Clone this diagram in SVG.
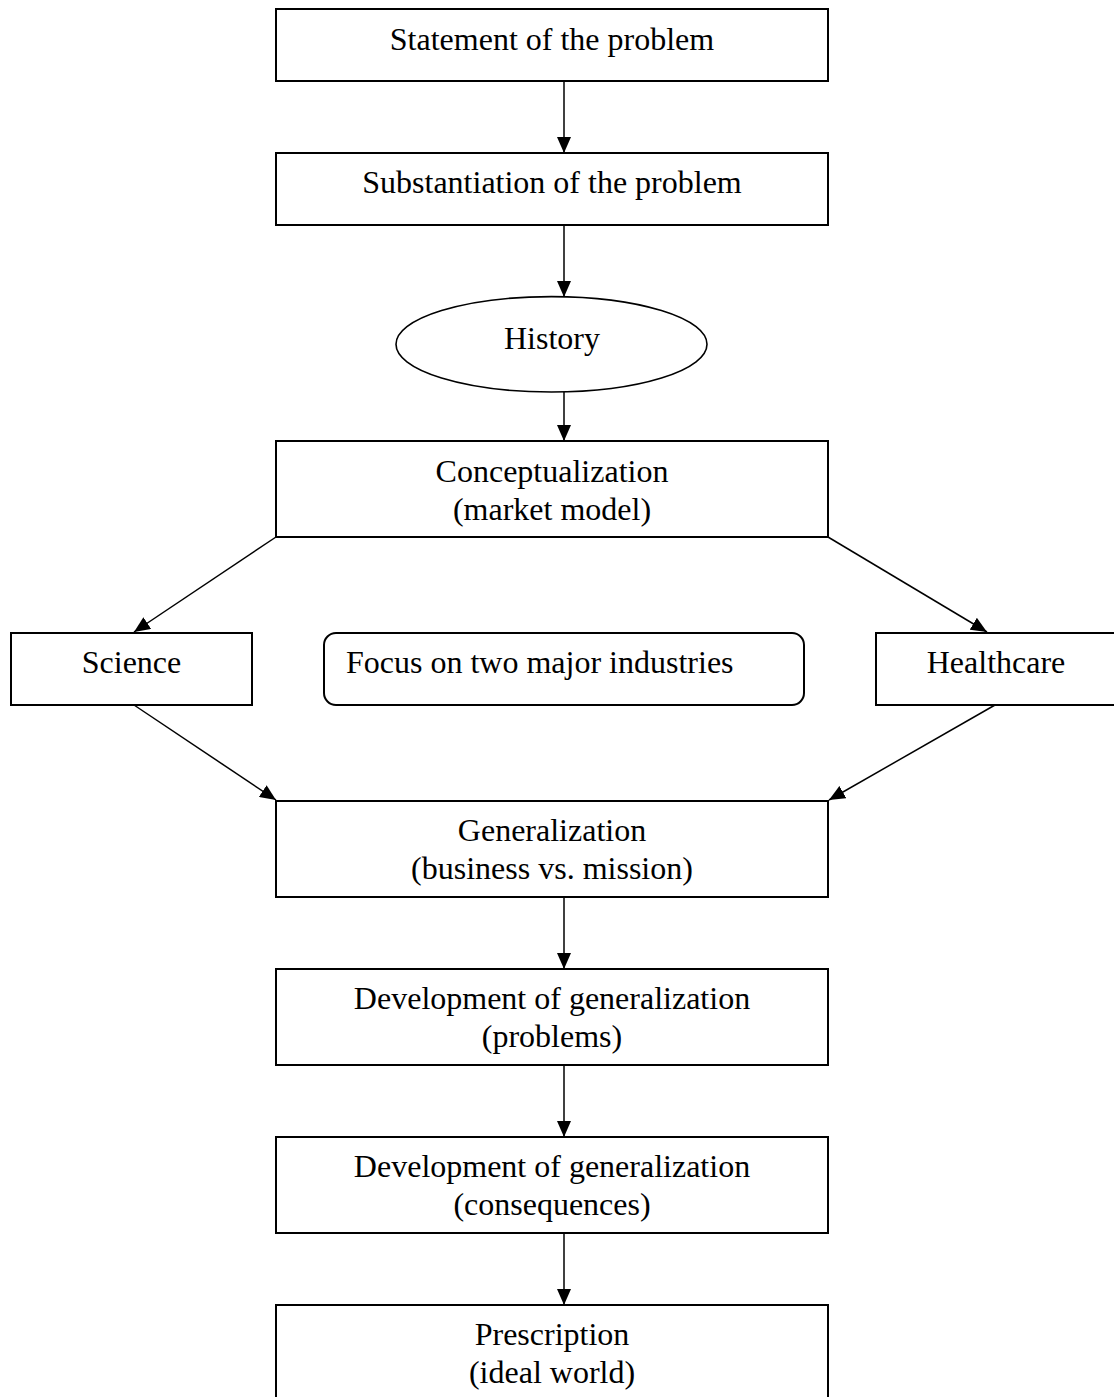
<svg xmlns="http://www.w3.org/2000/svg" width="1114" height="1397" viewBox="0 0 1114 1397">
<style>
.box{fill:#fff;stroke:#000;stroke-width:2}
.ell{fill:#fff;stroke:#000;stroke-width:1.6}
.t{font-family:"Liberation Serif","Times New Roman",serif;font-size:32px;fill:#000;text-anchor:middle}
.ts{font-family:"Liberation Serif","Times New Roman",serif;font-size:32px;fill:#000;text-anchor:start}
.c{fill:none;stroke:#000;stroke-width:1.5;marker-end:url(#ah)}
</style>
<defs>
<marker id="ah" markerUnits="userSpaceOnUse" markerWidth="16" markerHeight="14" refX="16" refY="7" orient="auto">
<path d="M0,0 L16,7 L0,14 z" fill="#000"/>
</marker>
</defs>
<rect width="1114" height="1397" fill="#fff"/>
<g id="connectors">
<line class="c" x1="564" y1="81" x2="564" y2="153"/>
<line class="c" x1="564" y1="225" x2="564" y2="297"/>
<line class="c" x1="564" y1="392" x2="564" y2="441"/>
<line class="c" x1="276" y1="537" x2="134" y2="632"/>
<line class="c" x1="828" y1="537" x2="987" y2="632"/>
<line class="c" x1="134" y1="705" x2="276" y2="800"/>
<line class="c" x1="995" y1="705" x2="829" y2="800"/>
<line class="c" x1="564" y1="897" x2="564" y2="969"/>
<line class="c" x1="564" y1="1065" x2="564" y2="1137"/>
<line class="c" x1="564" y1="1233" x2="564" y2="1305"/>
</g>
<g id="statement">
<rect class="box" x="276" y="9" width="552" height="72"/>
<text class="t" x="552" y="50">Statement of the problem</text>
</g>
<g id="substantiation">
<rect class="box" x="276" y="153" width="552" height="72"/>
<text class="t" x="552" y="193">Substantiation of the problem</text>
</g>
<g id="history">
<ellipse class="ell" cx="551.5" cy="344.3" rx="155.5" ry="47.7"/>
<text class="t" x="552" y="348.5">History</text>
</g>
<g id="conceptualization">
<rect class="box" x="276" y="441" width="552" height="96"/>
<text class="t" x="552" y="481.5">Conceptualization</text>
<text class="t" x="552" y="519.5">(market model)</text>
</g>
<g id="science">
<rect class="box" x="11" y="633" width="241" height="72"/>
<text class="t" x="131.5" y="673">Science</text>
</g>
<g id="focus">
<rect class="box" x="324" y="633" width="480" height="72" rx="12" ry="12"/>
<text class="ts" x="346" y="673">Focus on two major industries</text>
</g>
<g id="healthcare">
<rect class="box" x="876" y="633" width="241" height="72"/>
<text class="t" x="996" y="673">Healthcare</text>
</g>
<g id="generalization">
<rect class="box" x="276" y="801" width="552" height="96"/>
<text class="t" x="552" y="840.5">Generalization</text>
<text class="t" x="552" y="878.5">(business vs. mission)</text>
</g>
<g id="dev-problems">
<rect class="box" x="276" y="969" width="552" height="96"/>
<text class="t" x="552" y="1008.5">Development of generalization</text>
<text class="t" x="552" y="1046.5">(problems)</text>
</g>
<g id="dev-consequences">
<rect class="box" x="276" y="1137" width="552" height="96"/>
<text class="t" x="552" y="1176.5">Development of generalization</text>
<text class="t" x="552" y="1214.5">(consequences)</text>
</g>
<g id="prescription">
<rect class="box" x="276" y="1305" width="552" height="96"/>
<text class="t" x="552" y="1345">Prescription</text>
<text class="t" x="552" y="1383">(ideal world)</text>
</g>
</svg>
